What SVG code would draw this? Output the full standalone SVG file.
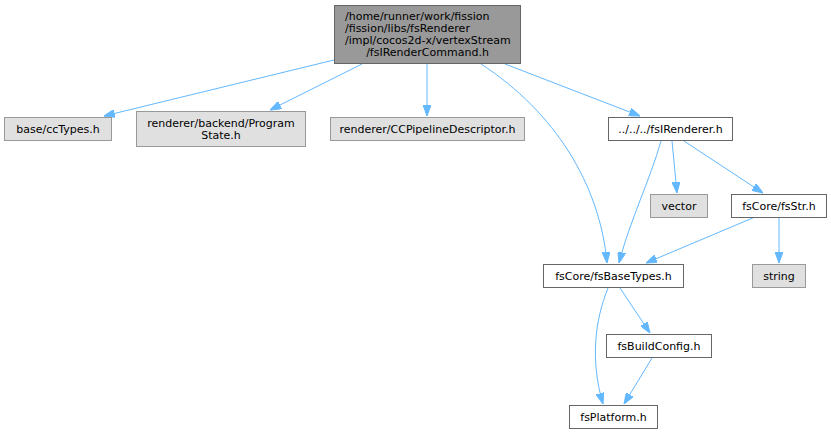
<svg xmlns="http://www.w3.org/2000/svg" width="831" height="435" viewBox="0 0 831 435">
<style>
.n rect{stroke-width:1}
.root rect{fill:#999999;stroke:#666666}
.ext rect{fill:#e0e0e0;stroke:#999999}
.int rect{fill:#ffffff;stroke:#666666}
text{font-family:"DejaVu Sans","Liberation Sans",sans-serif;font-size:11px;fill:#000000}
.c{text-anchor:middle}
.e path{fill:none;stroke:#63b8ff;stroke-width:1;marker-end:url(#ah)}
</style>
<defs>
<marker id="ah" viewBox="0 0 11 8" refX="11" refY="4" markerWidth="11" markerHeight="8" markerUnits="userSpaceOnUse" orient="auto">
<polygon points="0,0 11,4 0,8" fill="#63b8ff" stroke="#63b8ff"/>
</marker>
</defs>
<g id="edges" class="e">
<path d="M334,60 L104,116"/>
<path d="M362,64 L270,110"/>
<path d="M427,64 L427,116"/>
<path d="M481,64 C555,112 600,185 607,263"/>
<path d="M505,64 L640,116"/>
<path d="M661,141 C650,180 630,220 619,263"/>
<path d="M672,141 L677,193"/>
<path d="M684,141 L763,193"/>
<path d="M755,217 L646,263"/>
<path d="M779,217 L779,263"/>
<path d="M608,288 C595,320 590,360 603,404"/>
<path d="M620,288 L650,333"/>
<path d="M652,358 L624,404"/>
</g>
<g id="node_root" class="n root">
<rect x="334.5" y="5.5" width="186" height="58"/>
<text x="345" y="20">/home/runner/work/fission</text>
<text x="345" y="32">/fission/libs/fsRenderer</text>
<text x="345" y="44">/impl/cocos2d-x/vertexStream</text>
<text x="427.5" y="56" class="c">/fsIRenderCommand.h</text>
</g>
<g id="node_ccTypes" class="n ext">
<rect x="4.5" y="117.5" width="107" height="23"/>
<text x="58" y="133" class="c">base/ccTypes.h</text>
</g>
<g id="node_ProgramState" class="n ext">
<rect x="136.5" y="111.5" width="169" height="35"/>
<text x="221" y="127" class="c">renderer/backend/Program</text>
<text x="221" y="139" class="c">State.h</text>
</g>
<g id="node_CCPipeline" class="n ext">
<rect x="330.5" y="117.5" width="194" height="23"/>
<text x="427.5" y="133" class="c">renderer/CCPipelineDescriptor.h</text>
</g>
<g id="node_fsIRenderer" class="n int">
<rect x="608.5" y="117.5" width="124" height="23"/>
<text x="670.5" y="133" class="c">../../../fsIRenderer.h</text>
</g>
<g id="node_vector" class="n ext">
<rect x="650.5" y="194.5" width="57" height="23"/>
<text x="679" y="210" class="c">vector</text>
</g>
<g id="node_fsStr" class="n int">
<rect x="731.5" y="194.5" width="95" height="23"/>
<text x="779" y="210" class="c">fsCore/fsStr.h</text>
</g>
<g id="node_fsBaseTypes" class="n int">
<rect x="543.5" y="264.5" width="140" height="23"/>
<text x="613.5" y="280" class="c">fsCore/fsBaseTypes.h</text>
</g>
<g id="node_string" class="n ext">
<rect x="752.5" y="264.5" width="53" height="23"/>
<text x="779" y="280" class="c">string</text>
</g>
<g id="node_fsBuildConfig" class="n int">
<rect x="606.5" y="334.5" width="105" height="23"/>
<text x="659" y="350" class="c">fsBuildConfig.h</text>
</g>
<g id="node_fsPlatform" class="n int">
<rect x="569.5" y="405.5" width="88" height="23"/>
<text x="613.5" y="421" class="c">fsPlatform.h</text>
</g>
</svg>
